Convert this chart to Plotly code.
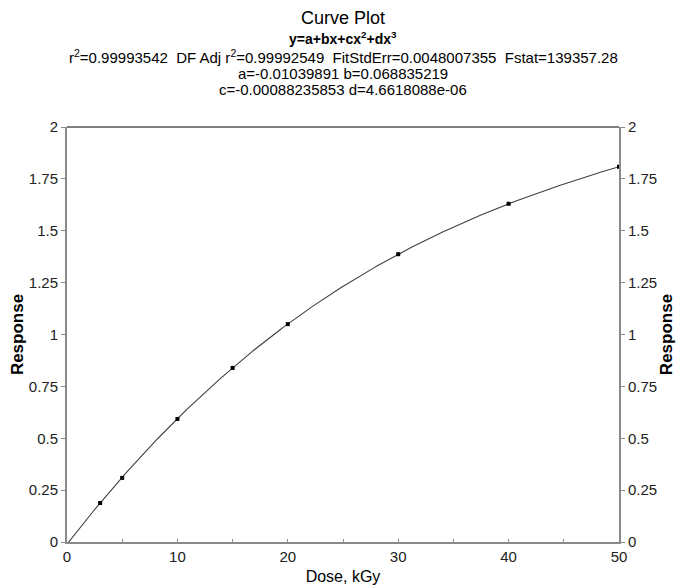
import numpy as np
import plotly.graph_objects as go

# Dose-response calibration data (dose in kGy, response)
dose = [3, 5, 10, 15, 20, 30, 40, 50]
response = [0.188, 0.309, 0.593, 0.839, 1.050, 1.387, 1.630, 1.809]

# Cubic fit coefficients y = a + b*x + c*x^2 + d*x^3
a = -0.01039891
b = 0.068835219
c = -0.00088235853
d = 4.6618088e-06
r2 = "0.99993542"
adj_r2 = "0.99992549"
fit_std_err = "0.0048007355"
fstat = "139357.28"

y_ticks = [0, 0.25, 0.5, 0.75, 1, 1.25, 1.5, 1.75, 2]
y_tick_text = ["0", "0.25", "0.5", "0.75", "1", "1.25", "1.5", "1.75", "2"]
x_ticks = [0, 10, 20, 30, 40, 50]

xf = np.linspace(0, 50, 400)
yf = a + b * xf + c * xf**2 + d * xf**3

FONT = "Liberation Sans, Arial, sans-serif"
AXIS_GRAY = "#8a8a8a"

fig = go.Figure()
fig.add_trace(go.Scatter(x=xf, y=yf, mode="lines",
                         line=dict(color="#404040", width=1.1),
                         hoverinfo="skip", showlegend=False))
fig.add_trace(go.Scatter(x=dose, y=response, mode="markers",
                         marker=dict(symbol="square", size=4, color="black"),
                         showlegend=False))
# invisible trace so the right-hand response axis is drawn
fig.add_trace(go.Scatter(x=[None], y=[None], yaxis="y2", showlegend=False))

common_y = dict(range=[0, 2], tickvals=y_ticks, ticktext=y_tick_text,
                automargin=False,
                showgrid=False, zeroline=False, showline=True,
                linecolor=AXIS_GRAY, linewidth=2,
                ticks="outside", ticklen=4, tickcolor=AXIS_GRAY, tickwidth=1,
                tickfont=dict(family=FONT, size=15, color="#222"))

y_title_font = dict(family=FONT, size=17, color="black")

fig.update_layout(
    width=676, height=585,
    margin=dict(l=67, r=57, t=127, b=43),
    paper_bgcolor="white", plot_bgcolor="white",
    xaxis=dict(range=[0, 50], tickvals=x_ticks, automargin=False,
               showgrid=False, zeroline=False, showline=True,
               linecolor=AXIS_GRAY, linewidth=2,
               ticks="inside", ticklen=3, tickcolor=AXIS_GRAY,
               minor=dict(dtick=5, tick0=0, ticks="inside", ticklen=3,
                          tickcolor=AXIS_GRAY, showgrid=False),
               tickfont=dict(family=FONT, size=15, color="#222"),
               title=dict(text="Dose, kGy", standoff=8,
                          font=dict(family=FONT, size=16, color="black"))),
    yaxis=dict(**common_y,
               title=dict(text="<b>Response</b>", standoff=1, font=y_title_font)),
    yaxis2=dict(**common_y, overlaying="y", side="right",
                title=dict(text="<b>Response</b>", standoff=6, font=y_title_font)),
)

# thin black frame line along the top of the plot area
fig.add_shape(type="line", xref="x domain", yref="y domain",
              x0=0, x1=1, y0=1, y1=1, line=dict(color="black", width=1))

# stacked heading: title, model, fit statistics, coefficients
def ypix(p):
    return (542 - p) / 415

heading = [
    ("Curve Plot", 18, 18),
    ("<b>y=a+bx+cx<sup>2</sup>+dx<sup>3</sup></b>", 38, 14),
    (f"r<sup>2</sup>={r2}  DF Adj r<sup>2</sup>={adj_r2}  "
     f"FitStdErr={fit_std_err}  Fstat={fstat}", 56, 15),
    (f"a={a!r} b={b!r}", 73, 15),
    (f"c={c!r} d={d!r}", 90, 15),
]
for text, p, size in heading:
    fig.add_annotation(text=text, xref="paper", yref="paper",
                       x=0.5, y=ypix(p), xanchor="center", yanchor="middle",
                       showarrow=False,
                       font=dict(family=FONT, size=size, color="black"))

fig.write_html("out.html")
